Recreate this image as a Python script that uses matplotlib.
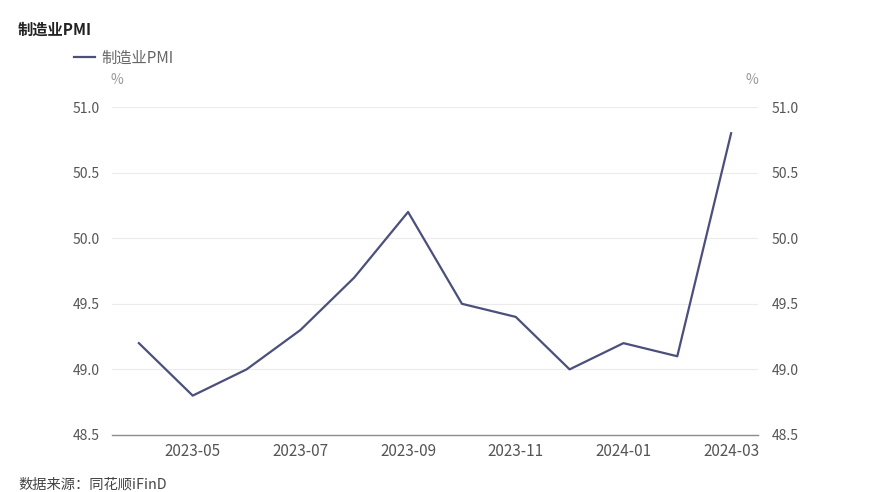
import matplotlib
matplotlib.use("Agg")
import matplotlib.pyplot as plt

plt.rcParams['font.family'] = ['Noto Sans CJK SC', 'DejaVu Sans']

months = ["2023-04", "2023-05", "2023-06", "2023-07", "2023-08", "2023-09",
          "2023-10", "2023-11", "2023-12", "2024-01", "2024-02", "2024-03"]
pmi = [49.2, 48.8, 49.0, 49.3, 49.7, 50.2, 49.5, 49.4, 49.0, 49.2, 49.1, 50.8]
yticks = [48.5, 49.0, 49.5, 50.0, 50.5, 51.0]

line_color = '#4b4f7c'
tick_color = '#555555'

fig = plt.figure(figsize=(8.7, 4.92), dpi=100)
ax = fig.add_axes([0.1287, 0.1159, 0.7426, 0.6666])

x = list(range(len(months)))
ax.plot(x, pmi, color=line_color, linewidth=1.6, label='制造业PMI')

ax.set_xlim(-0.5, len(months) - 0.5)
ax.set_ylim(48.5, 51.0)
ax.set_yticks(yticks)
ax.set_yticklabels([f"{v:.1f}" for v in yticks])
ax.set_xticks(x[1::2])
ax.set_xticklabels(months[1::2])

ax.grid(axis='y', color='#ebebeb', linewidth=0.8)
ax.set_axisbelow(True)
for s in ['top', 'left', 'right']:
    ax.spines[s].set_visible(False)
ax.spines['bottom'].set_color('#8c8c8c')
ax.spines['bottom'].set_linewidth(1.0)

ax.tick_params(axis='x', length=0, labelsize=11, colors=tick_color, pad=6)
ax.tick_params(axis='y', length=0, labelsize=10, colors=tick_color, pad=9)

ax2 = ax.twinx()
ax2.set_ylim(48.5, 51.0)
ax2.set_yticks(yticks)
ax2.set_yticklabels([f"{v:.1f}" for v in yticks])
for s in ['top', 'left', 'right', 'bottom']:
    ax2.spines[s].set_visible(False)
ax2.tick_params(axis='y', length=0, labelsize=10, colors=tick_color, pad=10)

fig.text(18 / 870, 1 - 30 / 492, '制造业PMI', fontsize=11, fontweight='bold',
         color='#222222', va='center', ha='left')
leg = ax.legend(loc='upper left', bbox_to_anchor=(66 / 870, 1 - 42 / 492),
                bbox_transform=fig.transFigure, frameon=False, fontsize=11,
                handlelength=1.4, handletextpad=0.4, borderpad=0)
for t in leg.get_texts():
    t.set_color('#666666')
fig.text(117 / 870, 1 - 80 / 492, '%', fontsize=10, color='#999999', va='center', ha='center')
fig.text(752 / 870, 1 - 80 / 492, '%', fontsize=10, color='#999999', va='center', ha='center')
fig.text(18 / 870, 1 - 485 / 492, '数据来源：同花顺iFinD', fontsize=10.3,
         color='#444444', va='center', ha='left')

fig.savefig('out.png', dpi=100)
